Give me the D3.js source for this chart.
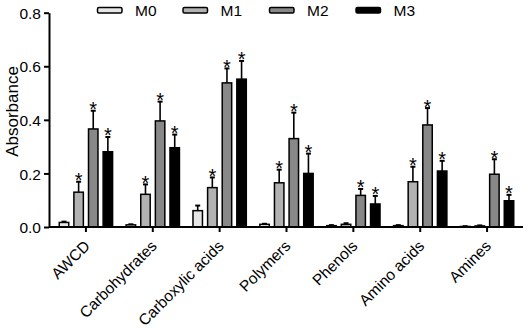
<!DOCTYPE html>
<html>
<head>
<meta charset="utf-8">
<script src="https://cdn.jsdelivr.net/npm/d3@7"></script>
<style>
  body { margin: 0; background: #fff; }
  text { font-family: Arial, "Liberation Sans", sans-serif; fill: #000; }
</style>
</head>
<body>
<div id="chart"></div>
<script>
// Data
const categories = ['AWCD', 'Carbohydrates', 'Carboxylic acids', 'Polymers', 'Phenols', 'Amino acids', 'Amines'];
const seriesNames = ['M0', 'M1', 'M2', 'M3'];
const m0Values = [0.017, 0.008, 0.061, 0.010, 0.005, 0.005, 0.002];
const m0Errors = [0.003, 0.002, 0.019, 0.002, 0.002, 0.002, 0.001];
const m1Values = [0.130, 0.122, 0.147, 0.165, 0.010, 0.169, 0.004];
const m1Errors = [0.039, 0.037, 0.038, 0.049, 0.004, 0.056, 0.002];
const m2Values = [0.366, 0.396, 0.538, 0.330, 0.118, 0.381, 0.197];
const m2Errors = [0.068, 0.072, 0.054, 0.097, 0.024, 0.063, 0.056];
const m3Values = [0.281, 0.296, 0.552, 0.200, 0.086, 0.209, 0.098];
const m3Errors = [0.055, 0.049, 0.068, 0.074, 0.030, 0.038, 0.022];
// significance markers (*) per series
const m0Stars = [0, 0, 0, 0, 0, 0, 0];
const m1Stars = [1, 1, 1, 1, 0, 1, 0];
const m2Stars = [1, 1, 1, 1, 1, 1, 1];
const m3Stars = [1, 1, 1, 1, 1, 1, 1];
const yTicks = [0, 0.2, 0.4, 0.6, 0.8];

const fills = ['#e6e6e6', '#b2b2b2', '#888888', '#000000'];

const width = 529, height = 331;
const plot = { left: 49, right: 523, top: 12.7, bottom: 227 };

const svg = d3.select('#chart').append('svg')
  .attr('width', width)
  .attr('height', height);

const allValues = [m0Values, m1Values, m2Values, m3Values];
const allErrors = [m0Errors, m1Errors, m2Errors, m3Errors];
const allStars = [m0Stars, m1Stars, m2Stars, m3Stars];

// flatten into bar records
const bars = [];
categories.forEach((c, i) => {
  seriesNames.forEach((s, j) => {
    bars.push({ cat: c, series: s, idx: j, value: allValues[j][i], err: allErrors[j][i], star: allStars[j][i] });
  });
});

// Scales
const x0 = d3.scaleBand()
  .domain(categories)
  .range([52.5, 520.5])
  .paddingInner(0.18)
  .paddingOuter(0.09);

const x1 = d3.scaleBand()
  .domain(seriesNames)
  .range([0, x0.bandwidth()])
  .paddingInner(0.25)
  .paddingOuter(0);

const y = d3.scaleLinear()
  .domain([0, 0.8])
  .range([plot.bottom, plot.top]);

// Bars
const g = svg.append('g');
const barG = g.selectAll('.bar')
  .data(bars)
  .join('g')
  .attr('transform', d => `translate(${x0(d.cat) + x1(d.series)},0)`);

// error bars (upper only) drawn first so the bar covers the stem
barG.append('line')
  .attr('x1', x1.bandwidth() / 2)
  .attr('x2', x1.bandwidth() / 2)
  .attr('y1', d => y(d.value))
  .attr('y2', d => y(d.value + d.err))
  .attr('stroke', '#000')
  .attr('stroke-width', 1.6);

barG.append('line')
  .attr('x1', x1.bandwidth() / 2 - 2.5)
  .attr('x2', x1.bandwidth() / 2 + 2.5)
  .attr('y1', d => y(d.value + d.err))
  .attr('y2', d => y(d.value + d.err))
  .attr('stroke', '#000')
  .attr('stroke-width', 2);

barG.append('rect')
  .attr('x', 0.75)
  .attr('width', x1.bandwidth() - 1.5)
  .attr('y', d => y(d.value))
  .attr('height', d => Math.max(0, y(0) - y(d.value)))
  .attr('fill', d => fills[d.idx])
  .attr('stroke', '#000')
  .attr('stroke-width', 1.5);

barG.filter(d => d.star)
  .append('text')
  .attr('x', x1.bandwidth() / 2)
  .attr('y', d => y(d.value + d.err) + 5.5)
  .attr('text-anchor', 'middle')
  .attr('font-size', 20)
  .text('*');

// Y axis
const yAxis = d3.axisLeft(y)
  .tickValues(yTicks)
  .tickFormat(d3.format('.1f'))
  .tickSize(5)
  .tickSizeOuter(0);

const yAxisG = svg.append('g')
  .attr('transform', `translate(${plot.left},0)`)
  .call(yAxis)
  .attr('font-size', 15.5)
  .attr('font-family', 'Arial, "Liberation Sans", sans-serif');
yAxisG.select('.domain').attr('stroke-width', 2);
yAxisG.selectAll('.tick line').attr('stroke-width', 2);
yAxisG.selectAll('.tick text')
  .attr('x', -8)
  .attr('dy', '0.36em');

svg.append('text')
  .attr('transform', 'translate(18,111.5) rotate(-90)')
  .attr('text-anchor', 'middle')
  .attr('font-size', 17)
  .text('Absorbance');

// X axis
const xAxis = d3.axisBottom(x0)
  .tickSize(5)
  .tickSizeOuter(0);

const xAxisG = svg.append('g')
  .attr('transform', `translate(0,${plot.bottom})`)
  .call(xAxis)
  .attr('font-size', 15.5)
  .attr('font-family', 'Arial, "Liberation Sans", sans-serif');
xAxisG.select('.domain')
  .attr('d', `M${plot.left},0H${plot.right}`)
  .attr('stroke-width', 2);
xAxisG.selectAll('.tick line').attr('stroke-width', 2);
xAxisG.selectAll('.tick text')
  .attr('text-anchor', 'end')
  .attr('dy', null)
  .attr('y', 0)
  .attr('transform', 'translate(5,20) rotate(-45)');

// Legend
const legendX = [97.5, 183, 269.5, 356];
const legend = svg.selectAll('.legend')
  .data(seriesNames)
  .join('g')
  .attr('transform', (d, i) => `translate(${legendX[i]},7.5)`);

legend.append('rect')
  .attr('width', 24.5)
  .attr('height', 5.5)
  .attr('rx', 1.5)
  .attr('fill', (d, i) => fills[i])
  .attr('stroke', '#000')
  .attr('stroke-width', 1.5);

legend.append('text')
  .attr('x', 37.5)
  .attr('y', 8.5)
  .attr('font-size', 15.5)
  .text(d => d);
</script>
</body>
</html>
